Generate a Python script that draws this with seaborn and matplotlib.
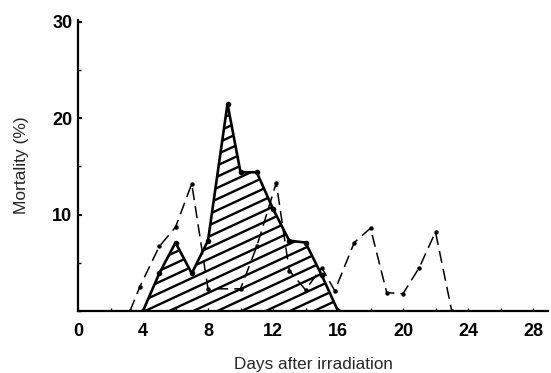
import numpy as np
import pandas as pd
import matplotlib
matplotlib.use("Agg")
import matplotlib.pyplot as plt
from matplotlib.ticker import MultipleLocator
import seaborn as sns

# Data
solid_days = [4, 5, 6, 7, 8, 9.2, 10, 11, 12, 13, 14, 15, 16]
solid_mort = [0, 3.9, 7.1, 3.9, 7.3, 21.5, 14.4, 14.4, 10.6, 7.3, 7.1, 3.7, 0]

dashed_days = [3.2, 3.8, 5, 6, 7, 8, 10, 11, 12.2, 13, 14, 15, 15.8, 17, 18, 19, 20, 21, 22, 23]
dashed_mort = [0, 2.5, 6.7, 8.7, 13.2, 2.3, 2.3, 6.7, 13.3, 4.2, 2.2, 4.5, 2.1, 7.1, 8.6, 1.9, 1.8, 4.5, 8.2, 0]

x_ticks = [0, 4, 8, 12, 16, 20, 24, 28]
y_ticks = [10, 20, 30]

sns.set_theme(style="white")
plt.rcParams['font.family'] = ['Liberation Sans', 'DejaVu Sans']

fig = plt.figure(figsize=(5.51, 3.73), dpi=100)
ax = fig.add_axes([78/551, 62/373, (548-78)/551, (311-20)/373])

df_s = pd.DataFrame({"day": solid_days, "mort": solid_mort})
df_d = pd.DataFrame({"day": dashed_days, "mort": dashed_mort})

# hatched area under solid curve
poly = ax.fill_between(df_s["day"], df_s["mort"], 0, facecolor="none", edgecolor="none")
clip = poly.get_paths()[0]
for c in np.arange(-0.8, 1.0, 0.0385):
    xs = np.array([0, 1])
    ln, = ax.plot(xs, 0.75 * xs + c, transform=ax.transAxes, color="black", lw=1.7,
                  solid_capstyle="butt")
    ln.set_clip_path(clip, ax.transData)

sns.lineplot(data=df_s, x="day", y="mort", ax=ax, color="black", lw=1.9,
             marker="o", markersize=4, markeredgewidth=0, estimator=None, sort=False)
sns.lineplot(data=df_d, x="day", y="mort", ax=ax, color="black", lw=1.1,
             linestyle=(0, (8, 4)), marker="o", markersize=3.2, markeredgewidth=0,
             estimator=None, sort=False)

ax.set_xlim(0, (548-78)/16.25)
ax.set_ylim(0, 30.2)
ax.set_xticks(x_ticks)
ax.set_yticks(y_ticks)
ax.xaxis.set_minor_locator(MultipleLocator(2))
ax.yaxis.set_minor_locator(MultipleLocator(5))
ax.tick_params(axis="both", which="major", direction="in", length=3, width=1.5,
               labelsize=13, colors="black")
ax.tick_params(axis="x", which="major", length=2, width=1, pad=9)
ax.tick_params(axis="y", which="major", pad=4)
ax.tick_params(axis="both", which="minor", direction="in", length=2, width=1, color="black")
ax.tick_params(axis="both", which="both", bottom=True, left=True, top=False, right=False)
for lab in ax.get_xticklabels() + ax.get_yticklabels():
    lab.set_fontweight("bold")

for s in ["top", "right"]:
    ax.spines[s].set_visible(False)
for s in ["left", "bottom"]:
    ax.spines[s].set_color("black")
    ax.spines[s].set_linewidth(1.6)

ax.set_xlabel("Days after irradiation", fontsize=12.3, labelpad=12)
ax.set_ylabel("Mortality (%)", fontsize=12.5, labelpad=17)
ax.grid(False)

fig.savefig("out.png", dpi=100)
